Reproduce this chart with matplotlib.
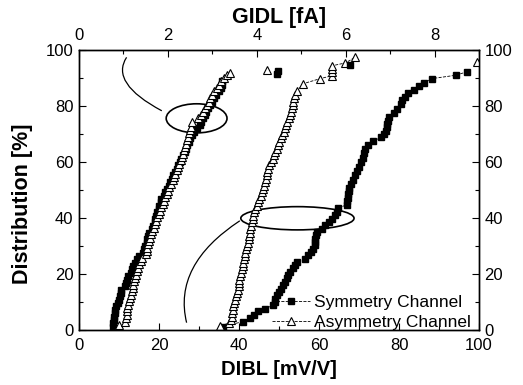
import matplotlib
matplotlib.use("Agg")
import matplotlib.pyplot as plt
from matplotlib.patches import Ellipse, PathPatch
from matplotlib.path import Path

plt.rcParams['font.family'] = ['Liberation Sans', 'DejaVu Sans']

# DIBL distribution (bottom axis, mV/V)
dibl_sym_x = [36.0, 41.0, 42.8, 43.8, 44.8, 46.6, 48.4, 49.0, 49.1, 49.4, 49.9, 50.4, 50.9, 51.4,
              51.9, 52.3, 52.8, 53.4, 54.0, 54.6, 56.5, 57.3, 58.0, 58.6, 59.0, 59.0, 59.1, 59.2,
              59.4, 60.8, 61.6, 62.4, 63.2, 64.0, 64.4, 64.8, 66.9, 67.1, 67.2, 67.3, 67.4, 67.5,
              68.0, 68.4, 69.0, 69.5, 69.9, 70.5, 70.9, 71.3, 71.6, 72.2, 73.4, 75.6, 76.2, 76.8,
              77.0, 77.1, 77.2, 77.4, 78.8, 79.6, 80.4, 80.8, 81.4, 82.2, 83.8, 85.0, 86.3, 88.2,
              94.2, 97.1]
dibl_sym_y = [1.2, 3.0, 4.3, 5.5, 6.6, 7.6, 8.8, 10.0, 11.2, 12.4, 13.6, 14.8, 16.0, 17.2,
              18.4, 19.6, 20.8, 22.0, 23.2, 24.4, 25.4, 26.6, 27.8, 29.0, 30.2, 31.4, 32.6, 33.8,
              35.0, 36.2, 37.4, 38.6, 39.8, 41.0, 42.2, 43.4, 44.8, 46.0, 47.2, 48.4, 49.6, 50.8,
              52.2, 53.6, 55.2, 56.8, 58.3, 60.0, 61.6, 63.2, 64.8, 66.2, 67.4, 68.8, 70.0, 71.2,
              72.4, 73.6, 74.8, 76.0, 77.6, 79.0, 80.6, 82.0, 83.4, 84.6, 85.8, 87.0, 88.4, 89.8,
              91.0, 92.3]

dibl_asym_x = [35.3, 37.4, 38.0, 38.2, 38.3, 38.4, 38.5, 38.7, 39.0, 39.3, 39.5, 39.7, 39.9, 40.0,
               40.1, 40.3, 40.6, 40.8, 41.0, 41.1, 41.3, 41.5, 41.6, 41.8, 42.1, 42.3, 42.5, 42.6,
               42.7, 42.8, 43.0, 43.3, 43.5, 43.6, 43.7, 44.0, 44.4, 44.8, 45.1, 45.4, 45.7, 46.0,
               46.2, 46.5, 46.7, 46.9, 47.1, 47.3, 47.6, 48.0, 48.4, 48.8, 49.1, 49.4, 49.7, 50.0,
               50.4, 50.8, 51.2, 51.5, 51.8, 52.1, 52.4, 52.7, 53.0, 53.2, 53.4, 53.6, 53.8, 54.1,
               54.4, 56.1, 60.3, 63.2, 63.2, 63.3, 63.3, 66.6, 69.0]
dibl_asym_y = [1.4, 2.4, 3.6, 4.8, 6.0, 7.2, 8.4, 9.6, 10.8, 12.0, 13.2, 14.4, 15.6, 16.8,
               18.0, 19.2, 20.4, 21.6, 22.8, 24.0, 25.2, 26.4, 27.6, 28.8, 30.0, 31.2, 32.4, 33.6,
               34.8, 36.0, 37.2, 38.4, 39.6, 40.8, 42.0, 43.2, 44.4, 45.6, 46.8, 48.0, 49.2, 50.4,
               51.6, 52.8, 54.0, 55.2, 56.4, 57.6, 58.8, 60.0, 61.2, 62.4, 63.6, 64.8, 66.0, 67.2,
               68.4, 69.6, 70.8, 72.0, 73.2, 74.4, 75.6, 76.8, 78.0, 79.2, 80.4, 81.6, 82.8, 84.0,
               85.2, 88.0, 89.8, 90.8, 92.0, 93.2, 94.4, 95.4, 97.4]

# GIDL distribution (top axis, fA)
gidl_sym_x = [0.77, 0.77, 0.78, 0.79, 0.80, 0.81, 0.84, 0.88, 0.90, 0.92, 0.94, 0.95, 1.04, 1.06,
              1.08, 1.11, 1.16, 1.19, 1.22, 1.26, 1.30, 1.35, 1.44, 1.47, 1.49, 1.52, 1.54, 1.56,
              1.58, 1.65, 1.67, 1.70, 1.72, 1.74, 1.76, 1.79, 1.81, 1.84, 1.85, 1.91, 1.94, 1.98,
              2.02, 2.05, 2.09, 2.12, 2.16, 2.20, 2.23, 2.27, 2.30, 2.34, 2.38, 2.40, 2.43, 2.47,
              2.50, 2.54, 2.59, 2.66, 2.72, 2.75, 2.79, 2.83, 2.86, 2.91, 2.95, 3.00, 3.04, 3.09,
              3.15, 3.20, 3.21, 3.22, 4.45, 4.48, 6.10]
gidl_sym_y = [1.2, 2.4, 3.6, 4.8, 6.0, 7.2, 8.4, 9.6, 10.8, 12.0, 13.2, 14.4, 15.6, 16.8,
              18.0, 19.2, 20.4, 21.6, 22.8, 24.0, 25.2, 26.4, 27.6, 28.8, 30.0, 31.2, 32.4, 33.6,
              34.8, 36.0, 37.2, 38.4, 39.6, 40.8, 42.0, 43.2, 44.4, 45.6, 46.8, 48.0, 49.2, 50.4,
              51.6, 52.8, 54.0, 55.2, 56.4, 57.6, 58.8, 60.0, 61.2, 62.4, 63.6, 64.8, 66.0, 67.2,
              68.4, 69.6, 70.8, 72.0, 73.2, 74.4, 75.6, 76.8, 78.0, 79.2, 80.4, 81.6, 82.8, 84.0,
              85.2, 86.4, 87.6, 88.8, 91.6, 92.6, 94.6]

gidl_asym_x = [0.90, 1.04, 1.06, 1.07, 1.08, 1.09, 1.10, 1.12, 1.15, 1.17, 1.19, 1.21, 1.22, 1.24,
               1.26, 1.28, 1.31, 1.33, 1.36, 1.39, 1.41, 1.51, 1.53, 1.54, 1.56, 1.58, 1.59, 1.61,
               1.65, 1.68, 1.71, 1.74, 1.76, 1.79, 1.83, 1.85, 1.88, 1.91, 1.94, 1.98, 2.01, 2.03,
               2.07, 2.11, 2.14, 2.17, 2.21, 2.23, 2.26, 2.29, 2.31, 2.34, 2.37, 2.39, 2.41, 2.44,
               2.46, 2.48, 2.49, 2.51, 2.54, 2.68, 2.74, 2.78, 2.83, 2.87, 2.92, 2.95, 3.00, 3.04,
               3.10, 3.15, 3.20, 3.27, 3.33, 3.40, 4.22, 8.95]
gidl_asym_y = [1.6, 3.0, 4.2, 5.4, 6.6, 7.8, 9.0, 10.2, 11.4, 12.6, 13.8, 15.0, 16.2, 17.4,
               18.6, 19.8, 21.0, 22.2, 23.4, 24.6, 25.8, 27.0, 28.2, 29.4, 30.6, 31.8, 33.0, 34.2,
               35.4, 36.6, 37.8, 39.0, 40.2, 41.4, 42.6, 43.8, 45.0, 46.2, 47.4, 48.6, 49.8, 51.0,
               52.2, 53.4, 54.6, 55.8, 57.0, 58.2, 59.4, 60.6, 61.8, 63.0, 64.2, 65.4, 66.6, 67.8,
               69.0, 70.2, 71.4, 72.6, 74.4, 75.6, 76.8, 78.0, 79.2, 80.4, 81.6, 82.8, 84.0, 85.2,
               86.4, 87.6, 88.8, 90.0, 91.0, 91.8, 92.9, 95.8]

fig = plt.figure(figsize=(5.23, 3.85), dpi=100)
ax = fig.add_axes([0.151, 0.143, 0.765, 0.727])
ax2 = ax.twiny()

sq = dict(color='black', marker='s', markersize=4.5, linewidth=0.6,
          markerfacecolor='black', markeredgecolor='black')
tri = dict(color='black', marker='^', markersize=5.5, linewidth=0.6,
           markerfacecolor='white', markeredgecolor='black', markeredgewidth=0.8)

ax.plot(dibl_sym_x, dibl_sym_y, linestyle='--', label='Symmetry Channel', **sq)
ax.plot(dibl_asym_x, dibl_asym_y, linestyle='--', label='Asymmetry Channel', **tri)
ax2.plot(gidl_sym_x, gidl_sym_y, linestyle='none', **sq)
ax2.plot(gidl_asym_x, gidl_asym_y, linestyle='none', **tri)

ax.set_xlim(0, 100)
ax.set_ylim(0, 100)
ax2.set_xlim(0, 9)

ax.set_xticks(range(0, 101, 20))
ax.set_xticks(range(10, 100, 20), minor=True)
ax.set_yticks(range(0, 101, 20))
ax.set_yticks(range(10, 100, 20), minor=True)
ax2.set_xticks([0, 2, 4, 6, 8])
ax2.set_xticks([1, 3, 5, 7, 9], minor=True)

ax.tick_params(axis='both', which='both', direction='in', labelsize=12, width=0.8)
ax.tick_params(axis='y', which='both', right=True, labelright=True, pad=4)
ax.tick_params(which='major', length=5)
ax.tick_params(which='minor', length=3)
ax.tick_params(axis='x', pad=6)
ax2.tick_params(axis='x', which='both', direction='in', labelsize=12, width=0.8, pad=5)
ax2.tick_params(which='major', length=5)
ax2.tick_params(which='minor', length=3)

for a in (ax, ax2):
    for s in a.spines.values():
        s.set_linewidth(1.0)

ax.set_xlabel('DIBL [mV/V]', fontsize=14.5, fontweight='bold', labelpad=5)
ax.set_ylabel('Distribution [%]', fontsize=15.5, fontweight='bold')
ax.yaxis.set_label_coords(-0.115, 0.45)
ax2.set_xlabel('GIDL [fA]', fontsize=15.5, fontweight='bold', labelpad=4)

# annotation ellipses and pointer curves
ax.add_patch(Ellipse((29.4, 75.6), 15.2, 10.4, fill=False, lw=1.2, color='black'))
ax.add_patch(Ellipse((54.6, 39.9), 28.3, 8.3, fill=False, lw=1.2, color='black'))
ax.add_patch(PathPatch(Path([(20.7, 78.3), (7.7, 88.2), (11.9, 97.4)],
                            [Path.MOVETO, Path.CURVE3, Path.CURVE3]),
                       fill=False, lw=0.9, color='black'))
ax.add_patch(PathPatch(Path([(40.2, 39.0), (23.4, 23.2), (26.9, 2.6)],
                            [Path.MOVETO, Path.CURVE3, Path.CURVE3]),
                       fill=False, lw=0.9, color='black'))

ax.legend(loc='lower right', bbox_to_anchor=(1.0, -0.03), frameon=False, fontsize=12.5,
          handlelength=2.2, handletextpad=0.2, labelspacing=0.25, borderaxespad=0.1)

fig.savefig('out.png', dpi=100)
